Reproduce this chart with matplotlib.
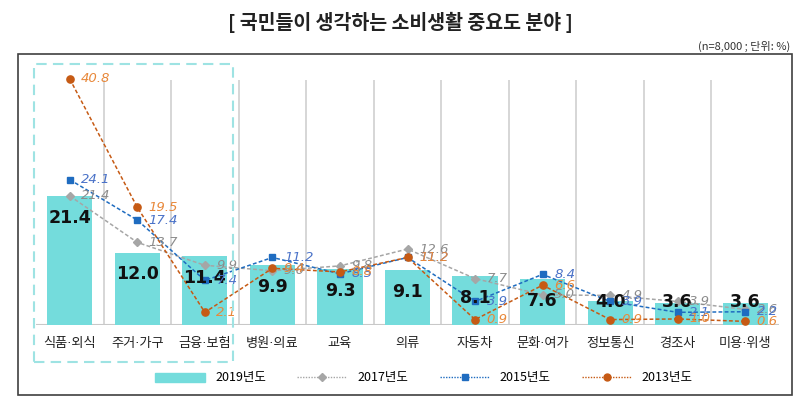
import matplotlib.pyplot as plt
import matplotlib.patches as patches
from matplotlib.lines import Line2D

plt.rcParams['font.family'] = ['Noto Sans CJK KR', 'DejaVu Sans']

categories = ['식품·외식', '주거·가구', '금융·보험', '병원·의료', '교육', '의류',
              '자동차', '문화·여가', '정보통신', '경조사', '미용·위생']
y2019 = [21.4, 12.0, 11.4, 9.9, 9.3, 9.1, 8.1, 7.6, 4.0, 3.6, 3.6]
y2017 = [21.4, 13.7, 9.9, 9.0, 9.8, 12.6, 7.7, 5.0, 4.9, 3.9, 2.6]
y2015 = [24.1, 17.4, 7.4, 11.2, 8.5, 11.2, 3.9, 8.4, 3.9, 2.1, 2.2]
y2013 = [40.8, 19.5, 2.1, 9.4, 8.8, 11.2, 0.9, 6.6, 0.9, 1.0, 0.6]
labels = ['2019년도', '2017년도', '2015년도', '2013년도']

bar_c = '#74DCDC'
gray_c, gray_t = '#A6A6A6', '#8C8C8C'
blue_c, blue_t = '#1F6CC0', '#4A72C8'
orng_c, orng_t = '#C65A14', '#E8883A'

W, H = 800, 407
fig = plt.figure(figsize=(W / 100, H / 100), dpi=100)
ax = fig.add_axes([36 / W, (H - 325) / H, (779 - 36) / W, (325 - 60) / H])

x = list(range(len(categories)))
ytop = (325 - 60) / 6.03

# vertical separators and baseline
ax.vlines([i + 0.5 for i in x[:-1]], 0, (325 - 80) / 6.03, color='#D0D0D0', lw=1.2, zorder=0)
ax.axhline(0, color='#C8C8C8', lw=1.5, zorder=1)

ax.bar(x, y2019, width=0.67, color=bar_c, zorder=2)
for i, v in enumerate(y2019):
    ax.text(i, max(v - 3.6, 3.8), '%.1f' % v, ha='center', va='center',
            fontsize=12.5, fontweight='bold', color='#111111', zorder=6,
            family=['DejaVu Sans'])

dash = (0, (2.5, 1.5))
ax.plot(x, y2017, ls=dash, lw=1.1, color=gray_c, marker='D', ms=4, zorder=3)
ax.plot(x, y2015, ls=dash, lw=1.1, color=blue_c, marker='s', ms=4.2, zorder=4)
ax.plot(x, y2013, ls=dash, lw=1.1, color=orng_c, marker='o', ms=5.2, zorder=5)

for vals, col in [(y2017, gray_t), (y2015, blue_t), (y2013, orng_t)]:
    for i, v in enumerate(vals):
        ax.text(i + 0.17, v, '%.1f' % v, ha='left', va='center', fontsize=9.5,
                style='italic', color=col, zorder=7, family=['DejaVu Sans'])

ax.set_xlim(-0.5, len(categories) - 0.5)
ax.set_ylim(0, ytop)
ax.set_xticks(x)
ax.set_xticklabels(categories, fontsize=9.5, color='#222222',
                   family=['DejaVu Sans', 'Noto Sans CJK KR'])
ax.tick_params(axis='x', length=0, pad=9)
ax.set_yticks([])
for s in ax.spines.values():
    s.set_visible(False)

# outer frame and highlight box
fig.patches.append(patches.Rectangle((18 / W, (H - 395) / H), (792 - 18) / W, (395 - 54) / H,
                                     transform=fig.transFigure, fill=False, ec='#404040', lw=1.2))
fig.patches.append(patches.Rectangle((34 / W, (H - 362) / H), (233 - 34) / W, (362 - 64) / H,
                                     transform=fig.transFigure, fill=False, ec='#9EE3E3',
                                     lw=1.5, ls=(0, (5, 3))))

fig.text(0.5, (H - 22) / H, '[ 국민들이 생각하는 소비생활 중요도 분야 ]', ha='center', va='center',
         fontsize=14, fontweight='bold', color='#222222')
fig.text(790 / W, (H - 46) / H, '(n=8,000 ; 단위: %)', ha='right', va='center',
         fontsize=8, color='#333333')

handles = [patches.Patch(color=bar_c),
           Line2D([], [], ls=(0, (1, 1)), lw=1, color=gray_c, marker='D', ms=4),
           Line2D([], [], ls=(0, (1, 1)), lw=1, color=blue_c, marker='s', ms=4),
           Line2D([], [], ls=(0, (1, 1)), lw=1, color=orng_c, marker='o', ms=5)]
fig.legend(handles, labels, loc='center', bbox_to_anchor=(0.53, (H - 378) / H), ncol=4,
           frameon=False, fontsize=9, handlelength=4, columnspacing=2.5)

fig.savefig('out.png', dpi=100)
